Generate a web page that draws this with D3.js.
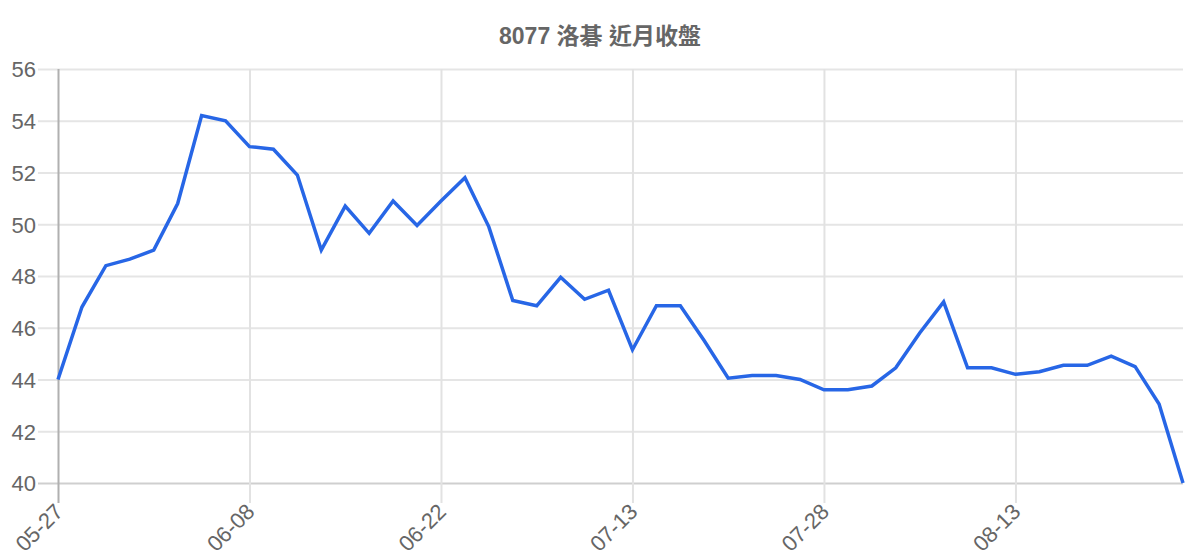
<!DOCTYPE html>
<html>
<head>
<meta charset="utf-8">
<script src="https://cdn.jsdelivr.net/npm/d3@7"></script>
<style>
  body { margin: 0; background: #fff; }
  svg { display: block; font-family: "Liberation Sans", Arial, "Noto Sans CJK TC", sans-serif; }
  .tick-label { fill: #666; font-size: 22px; }
  .title { fill: #666; font-size: 23px; font-weight: bold; }
</style>
</head>
<body>
<svg id="chart" width="1200" height="560"></svg>
<script>
const title = "8077 洛碁 近月收盤";

// closing prices, one per trading day
const closes = [
    44.0, 46.8, 48.4, 48.65, 49.0, 50.8, 54.2, 54.0,
    53.0, 52.9, 51.9, 49.0, 50.7, 49.65, 50.9, 49.95,
    50.9, 51.8, 49.9, 47.05, 46.85, 47.95, 47.1, 47.45,
    45.15, 46.85, 46.85, 45.5, 44.05, 44.15, 44.15, 44.0,
    43.6, 43.6, 43.75, 44.45, 45.8, 47.0, 44.45, 44.45,
    44.2, 44.3, 44.55, 44.55, 44.9, 44.5, 43.05, 40.0
];

// labelled category positions on the x axis
const tickIndex = [0, 8, 16, 24, 32, 40];
const tickLabels = ["05-27", "06-08", "06-22", "07-13", "07-28", "08-13"];

const yTicks = [40, 42, 44, 46, 48, 50, 52, 54, 56];

const plot_left = 58, plot_right = 1183, plot_top = 69, plot_bottom = 483;

const svg = d3.select("#chart");

const x = d3.scaleLinear()
    .domain([0, closes.length - 1])
    .range([plot_left, plot_right]);

const y = d3.scaleLinear()
    .domain([40, 56])
    .range([plot_bottom, plot_top]);

svg.append("text")
    .attr("class", "title")
    .attr("x", 600)
    .attr("y", 44)
    .attr("text-anchor", "middle")
    .text(title);

// horizontal grid + y axis labels
const yAxis = d3.axisLeft(y)
    .tickValues(yTicks)
    .tickSize(-(plot_right - plot_left))
    .tickSizeOuter(0);

const gy = svg.append("g")
    .attr("transform", "translate(" + plot_left + ",0)")
    .call(yAxis);
gy.select(".domain").remove();
gy.selectAll(".tick line")
    .attr("x1", -20)
    .attr("stroke", d => d == 40 ? "#cfcfcf" : "#e5e5e5")
    .attr("stroke-width", 2);
gy.selectAll(".tick text")
    .attr("class", "tick-label")
    .attr("x", -22)
    .attr("dy", "0.36em")
    .attr("font-family", null)
    .attr("font-size", null)
    .attr("fill", null);

// vertical grid + x axis labels
const xAxis = d3.axisBottom(x)
    .tickValues(tickIndex)
    .tickFormat((d, i) => tickLabels[i])
    .tickSize(-(plot_bottom - plot_top))
    .tickSizeOuter(0);

const gx = svg.append("g")
    .attr("transform", "translate(0," + plot_bottom + ")")
    .call(xAxis);
gx.select(".domain").remove();
gx.selectAll(".tick line")
    .attr("y1", 20)
    .attr("stroke", (d, i) => i == 0 ? "#b0b0b0" : "#e2e2e2")
    .attr("stroke-width", 2);
gx.selectAll(".tick text")
    .attr("class", "tick-label")
    .attr("y", null)
    .attr("dy", null)
    .attr("font-family", null)
    .attr("font-size", null)
    .attr("fill", null)
    .attr("text-anchor", "end")
    .attr("transform", "translate(6,30) rotate(-45)");

const line = d3.line()
    .x((d, i) => x(i))
    .y(d => y(d));

svg.append("path")
    .datum(closes)
    .attr("fill", "none")
    .attr("stroke", "#2766e6")
    .attr("stroke-width", 3.5)
    .attr("stroke-linejoin", "miter")
    .attr("d", line);
</script>
</body>
</html>
